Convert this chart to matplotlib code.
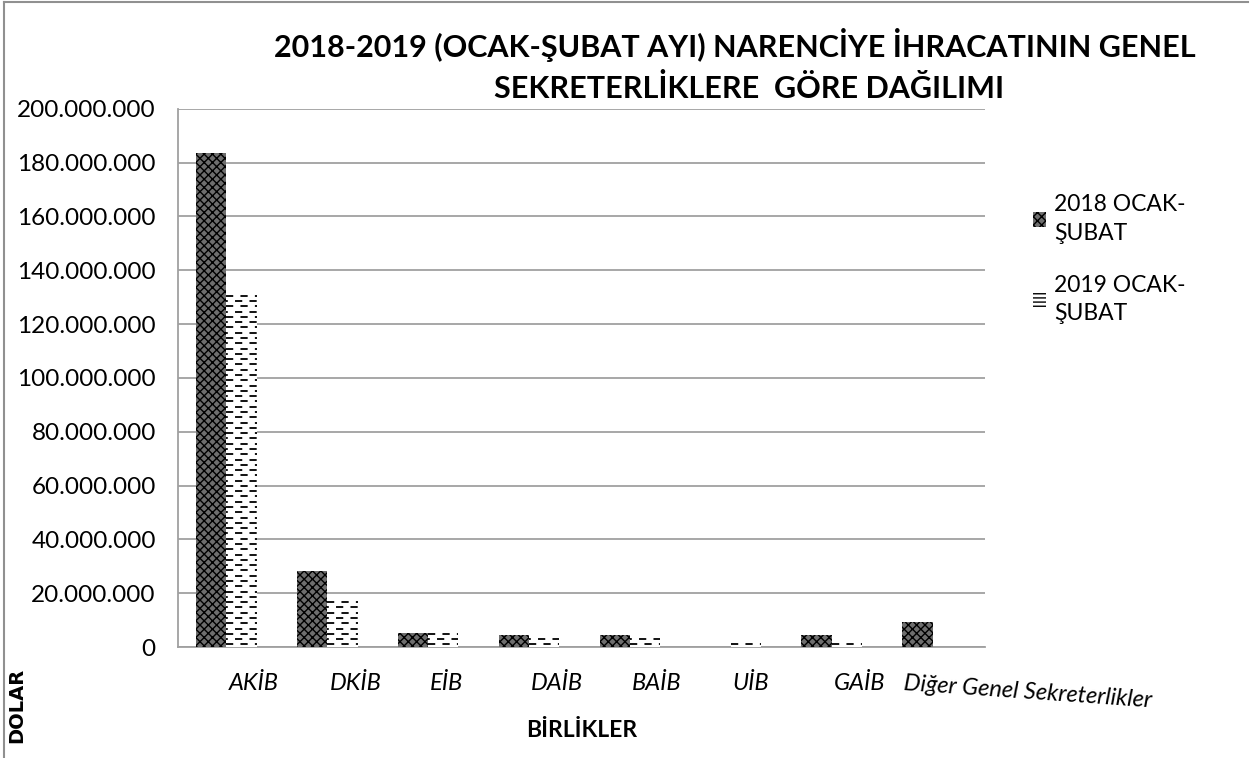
import matplotlib
matplotlib.use('Agg')
import matplotlib.pyplot as plt
import matplotlib.transforms as mtransforms
from matplotlib.lines import Line2D
from matplotlib.patches import Patch
import numpy as np

plt.rcParams['font.family'] = ['Lato', 'DejaVu Sans']

categories = ['AKİB', 'DKİB', 'EİB', 'DAİB', 'BAİB', 'UİB', 'GAİB', 'Diğer Genel Sekreterlikler']
values_2018 = [183.7e6, 28.3e6, 5.2e6, 4.6e6, 4.6e6, 0, 4.6e6, 9.4e6]
values_2019 = [131.5e6, 17.5e6, 6.2e6, 4.0e6, 4.0e6, 2.7e6, 2.7e6, 0]
series_labels = ['2018 OCAK-\nŞUBAT', '2019 OCAK-\nŞUBAT']
yticks = np.arange(0, 200_000_001, 20_000_000)

fig = plt.figure(figsize=(12.54, 7.58), dpi=100)
ax = fig.add_axes([0.142, 0.1464, 0.6435, 0.710])

x = np.arange(len(categories))
w = 0.3
plt.rcParams['hatch.linewidth'] = 1.0
bars18 = ax.bar(x - 0.02 - w / 2, values_2018, w, facecolor='#6e6e6e',
                edgecolor='black', hatch='xxxx', linewidth=0, zorder=3)
bars19 = ax.bar(x - 0.02 + w / 2, values_2019, w, facecolor='white',
                linewidth=0, zorder=3)

ax.set_ylim(0, 200_000_000)
ax.set_xlim(-0.5, len(categories) - 0.5)

# dashed fill for 2019 bars, clipped to each bar
step = 200_000_000 / 540 * 5.3
for b in bars19:
    h = b.get_height()
    if h <= 0:
        continue
    x0, x1 = b.get_x(), b.get_x() + b.get_width()
    for i, yy in enumerate(np.arange(step / 2, h, step)):
        ln, = ax.plot([x0, x1], [yy, yy], color='black', lw=1.3,
                      linestyle=(3 if i % 2 else 0, (4, 4)), zorder=4)
        ln.set_clip_path(b)

ax.set_yticks(yticks)
ax.set_yticklabels([f'{int(v):,}'.replace(',', '.') for v in yticks], fontsize=17.5)
ax.tick_params(axis='y', length=0, pad=16)
ax.yaxis.grid(True, color='#a0a0a0', lw=1.3, zorder=0)
ax.set_axisbelow(True)
for s in ['top', 'right']:
    ax.spines[s].set_visible(False)
ax.spines['left'].set_color('#a0a0a0')
ax.spines['left'].set_linewidth(1.3)
ax.spines['bottom'].set_color('#a0a0a0')
ax.spines['bottom'].set_linewidth(1.3)

ax.set_xticks(x)
ax.set_xticklabels(categories, fontsize=17, style='italic', ha='left')
ax.tick_params(axis='x', length=0, pad=19)
last = ax.get_xticklabels()[-1]
last.set_rotation(-4)
last.set_rotation_mode('anchor')
last.set_transform(last.get_transform() +
                   mtransforms.ScaledTranslation(-0.3, 0, fig.dpi_scale_trans))

ax.set_xlabel('BİRLİKLER', fontsize=16.5, fontweight='bold', labelpad=6)

fig.text(0.586, 0.94, '2018-2019 (OCAK-ŞUBAT AYI) NARENCİYE İHRACATININ GENEL',
         ha='center', va='center', fontsize=22, fontweight='bold')
fig.text(0.597, 0.883, 'SEKRETERLİKLERE  GÖRE DAĞILIMI',
         ha='center', va='center', fontsize=22, fontweight='bold')

fig.text(0.013, 0.07, 'DOLAR', rotation=90, ha='center', va='center',
         fontsize=14, fontweight='heavy', family=['DejaVu Sans'])

handles = [Patch(facecolor='#6e6e6e', edgecolor='black', hatch='xxxx', linewidth=0),
           Patch(facecolor='white', edgecolor='black', hatch='----', linewidth=0)]
leg = fig.legend(handles, series_labels, loc='upper left', bbox_to_anchor=(0.807, 0.771),
                 frameon=False, fontsize=16.5, handlelength=0.6, handleheight=0.6,
                 handletextpad=0.35, labelspacing=1.35)
for t in leg.get_texts():
    t.set_linespacing(1.45)

fig.add_artist(Line2D([0.003, 0.003], [0, 0.998], color='#909090', lw=1.5))
fig.add_artist(Line2D([0.003, 0.995], [0.997, 0.997], color='#909090', lw=1.5))

fig.savefig('out.png', dpi=100)
